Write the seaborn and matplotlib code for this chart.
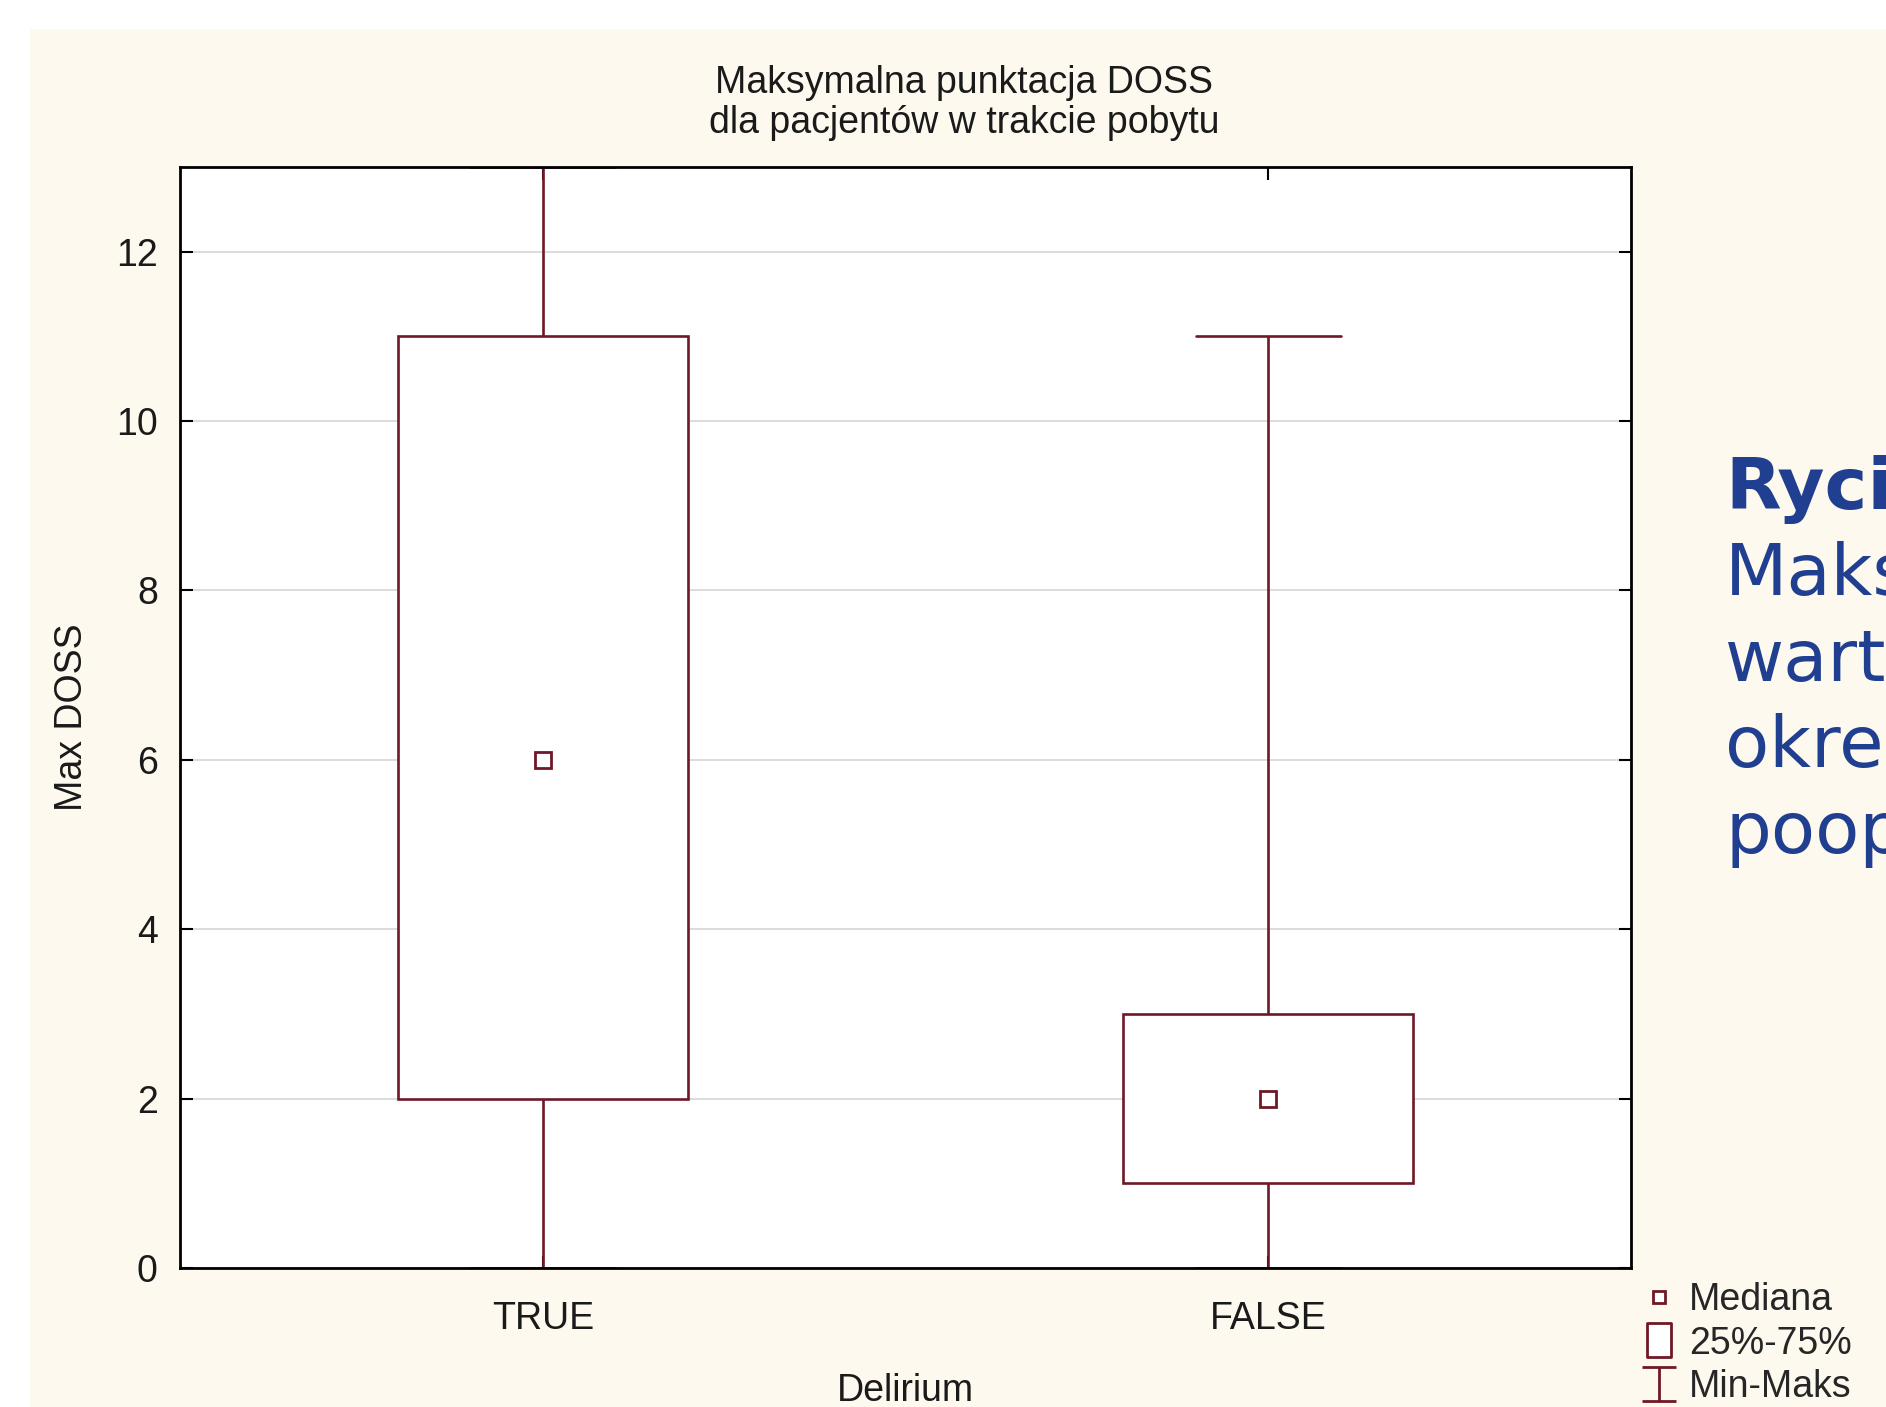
import numpy as np
import pandas as pd
import matplotlib
matplotlib.use('Agg')
import matplotlib.pyplot as plt
from matplotlib.lines import Line2D
from matplotlib.path import Path
from matplotlib.patches import Rectangle
import seaborn as sns

groups = ['TRUE', 'FALSE']
# min, q1, median, q3, max
true_vals = [0, 2, 6, 11, 13]
false_vals = [0, 1, 2, 3, 11]
y_ticks = [0, 2, 4, 6, 8, 10, 12]
title = "Maksymalna punktacja DOSS\ndla pacjentów w trakcie pobytu"
legend_labels = ['Mediana', '25%-75%', 'Min-Maks']
side_lines = ['Rycina', 'Maksymalne', 'wartości', 'określone', 'pooperacyjnie']

df = pd.DataFrame({
    'Delirium': ['TRUE'] * len(true_vals) + ['FALSE'] * len(false_vals),
    'Max DOSS': true_vals + false_vals,
})

RED = '#6F1826'
BEIGE = '#FDF9EF'
BLUE = '#203F90'
W, H = 1886, 1407

sns.set_theme(style='white')
plt.rcParams['font.family'] = ['Liberation Sans', 'DejaVu Sans']

fig = plt.figure(figsize=(W / 100, H / 100), dpi=100, facecolor='white')
fig.patches.append(Rectangle((30 / W, 0), 1, 1 - 29 / H, transform=fig.transFigure,
                             facecolor=BEIGE, edgecolor='none', zorder=-10))

ax = fig.add_axes([180 / W, 1 - 1268 / H, (1631 - 180) / W, (1268 - 167) / H])
ax.set_facecolor('white')
ax.grid(axis='y', color='#D9D9D9', linewidth=1.3)
ax.set_axisbelow(True)

sns.boxplot(data=df, x='Delirium', y='Max DOSS', order=groups, whis=(0, 100),
            width=0.4, color='white', linecolor=RED, linewidth=1.9, saturation=1,
            medianprops={'visible': False}, ax=ax)
sns.pointplot(data=df, x='Delirium', y='Max DOSS', order=groups, estimator='median',
              errorbar=None, linestyle='none', marker='s', markersize=11,
              markeredgewidth=2, color=RED, ax=ax)
pts = ax.lines[-1]
pts.set_markerfacecolor('white')
pts.set_zorder(5)

ax.set_xlim(-0.5, 1.5)
ax.set_ylim(0, 13)
ax.set_yticks(y_ticks)
ax.tick_params(direction='in', length=9, width=1.5, color='black', labelcolor='#1a1a1a',
               top=True, right=True, bottom=True, left=True, labelsize=27)
ax.tick_params(axis='y', pad=16)
ax.tick_params(axis='x', pad=24)
for s in ax.spines.values():
    s.set_visible(True)
    s.set_color('black')
    s.set_linewidth(2)

ax.set_xlabel('Delirium', fontsize=27, labelpad=26, color='#1a1a1a')
ax.set_ylabel('Max DOSS', fontsize=27, labelpad=19, color='#1a1a1a')

fig.text(964 / W, 1 - 65 / H, title, ha='center', va='top', fontsize=27,
         linespacing=1.15, color='#1a1a1a')

for i, word in enumerate(side_lines):
    fig.text(1725 / W, 1 - (509 + i * 86) / H, word, fontsize=52, color=BLUE,
             family='DejaVu Sans', fontweight='bold' if i == 0 else 'normal', va='baseline')

ibeam = Path([(-0.5, 0.5), (0.5, 0.5), (0, 0.5), (0, -0.5), (-0.5, -0.5), (0.5, -0.5)],
             [Path.MOVETO, Path.LINETO, Path.MOVETO, Path.LINETO, Path.MOVETO, Path.LINETO])
tall_box = Path([(-0.35, -0.5), (0.35, -0.5), (0.35, 0.5), (-0.35, 0.5), (-0.35, -0.5)],
                [Path.MOVETO, Path.LINETO, Path.LINETO, Path.LINETO, Path.CLOSEPOLY])
handles = [
    Line2D([], [], linestyle='none', marker='s', markersize=9, markerfacecolor='white',
           markeredgecolor=RED, markeredgewidth=2),
    Line2D([], [], linestyle='none', marker=tall_box, markersize=25, markerfacecolor='white',
           markeredgecolor=RED, markeredgewidth=2),
    Line2D([], [], linestyle='none', marker=ibeam, markersize=25, fillstyle='none',
           markeredgecolor=RED, markeredgewidth=2),
]
fig.legend(handles, legend_labels, loc='upper left', bbox_to_anchor=(1640 / W, 1 - 1282 / H),
           frameon=False, fontsize=27, handlelength=1.0, handletextpad=0.3,
           labelspacing=0.2, borderpad=0, borderaxespad=0)

fig.savefig('out.png', dpi=100, facecolor=fig.get_facecolor())
plt.close(fig)
